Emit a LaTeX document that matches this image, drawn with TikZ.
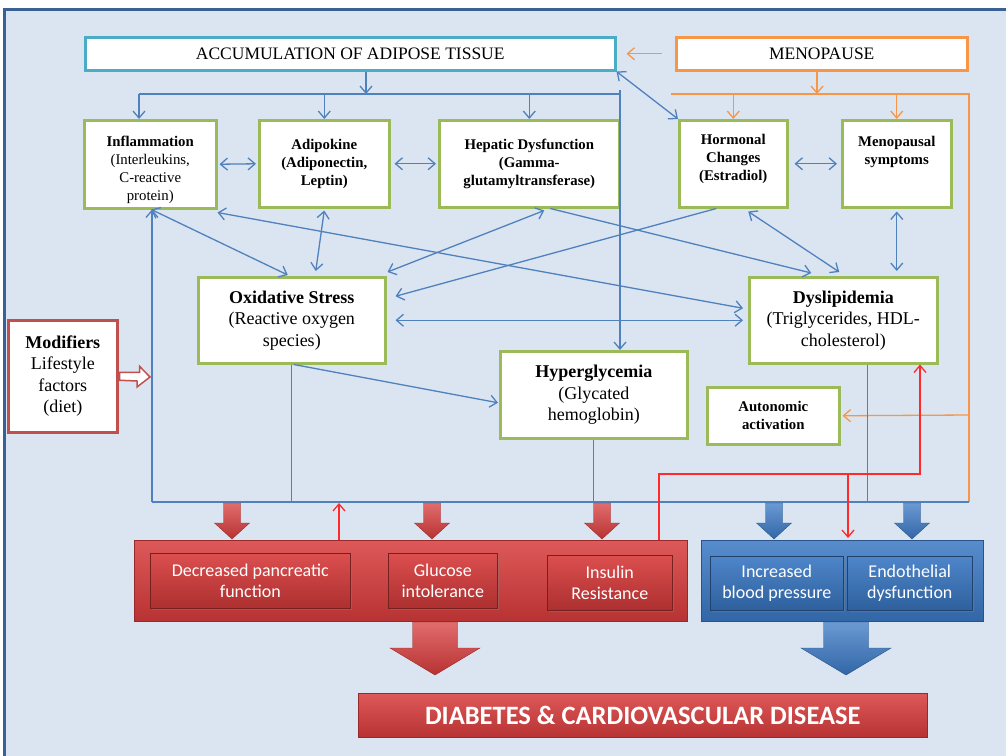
\documentclass[tikz,border=0pt]{standalone}
\usepackage{fontspec}
\setmainfont{Liberation Serif}
\newfontfamily\calfont{Carlito}
\usetikzlibrary{arrows.meta,shadows}

\definecolor{panelbg}{HTML}{DBE5F1}
\definecolor{frameblue}{HTML}{3B6096}
\definecolor{tissuecyan}{HTML}{4BACC6}
\definecolor{menoorange}{HTML}{F79646}
\definecolor{leafgreen}{HTML}{9BBB59}
\definecolor{lineblue}{HTML}{4F81BD}
\definecolor{linered}{HTML}{FF2A2A}
\definecolor{modred}{HTML}{C0504D}
\definecolor{slabred}{HTML}{D83B3B}
\definecolor{slabblue}{HTML}{3A78C4}

% block arrow pointing down: x, top, tip, half shaft, half head, head length, colour
\newcommand\blockdown[7]{%
  \shade [top color=#7!75!white, bottom color=#7!85!black, draw=#7!70!black, line width=.4pt]
    ({#1-#4},#2) -- ({#1+#4},#2) -- ({#1+#4},{#3-#6}) -- ({#1+#5},{#3-#6})
    -- (#1,#3) -- ({#1-#5},{#3-#6}) -- ({#1-#4},{#3-#6}) -- cycle;}

\tikzset{
  >={Straight Barb[length=7pt,width=12pt]},
  gbox/.style={draw=leafgreen, line width=2.5pt, fill=white, inner sep=1pt, anchor=north west,
    align=center, font=\fontsize{14.8}{18}\selectfont},
  bigbox/.style={gbox, font=\fontsize{18}{21.5}\selectfont},
  topbox/.style={line width=2.5pt, fill=white, anchor=north west, inner sep=0pt,
    font=\fontsize{17.5}{20}\selectfont},
  bline/.style={draw=lineblue, line width=1.3pt},
  oline/.style={draw=menoorange, line width=1.3pt},
  rline/.style={draw=linered, line width=1.3pt},
  slab/.style={anchor=north west, inner sep=0pt, draw=#1!70!black, line width=.6pt,
    top color=#1!85!white, bottom color=#1!85!black},
  tile/.style={anchor=north west, inner sep=0pt, draw=#1!55!black, line width=.6pt,
    top color=#1!90!white, bottom color=#1!80!black, text=white, align=center,
    font=\calfont\fontsize{18}{21.5}\selectfont,
    drop shadow={shadow xshift=1.5pt, shadow yshift=-1.5pt, opacity=.45}},
}

\begin{document}
\begin{tikzpicture}[x=1pt, y=-1pt]
\useasboundingbox (0,0) rectangle (1006,755);
\fill [white] (0,0) rectangle (1006,755);
\draw [fill=panelbg, draw=frameblue, line width=3pt] (4.5,9.5) rectangle (1015,765);

% top row
\node [topbox, draw=tissuecyan, minimum width=530pt, minimum height=33pt] (acc) at (84,36)
  {ACCUMULATION OF ADIPOSE TISSUE};
\node [topbox, draw=menoorange, minimum width=291pt, minimum height=33pt] (meno) at (675,36)
  {MENOPAUSE};

% green boxes
\node [gbox, minimum width=132pt, minimum height=88pt] (infl) at (83,119)
  {\rule{0pt}{21pt}\textbf{Inflammation}\\(Interleukins,\\C-reactive\\protein)};
\node [gbox, minimum width=130pt, minimum height=87pt] (adip) at (258,119)
  {\textbf{Adipokine}\\\textbf{(Adiponectin,}\\\textbf{Leptin)}};
\node [gbox, minimum width=180pt, minimum height=87pt] (hep) at (438,119)
  {\textbf{Hepatic Dysfunction}\\\textbf{(Gamma-}\\\textbf{glutamyltransferase)}};
\node [gbox, minimum width=108pt, minimum height=87pt] (horm) at (678,119)
  {\textbf{Hormonal}\\\textbf{Changes}\\\textbf{(Estradiol)}\\[-6pt]~};
\node [gbox, minimum width=109pt, minimum height=87pt] (symp) at (841,119)
  {\textbf{Menopausal}\\\textbf{symptoms}\\[9pt]~};
\node [bigbox, minimum width=187pt, minimum height=86pt] (oxi) at (197,276)
  {\textbf{Oxidative Stress}\\(Reactive oxygen\\species)};
\node [bigbox, minimum width=188pt, minimum height=86pt] (dys) at (748,276)
  {\textbf{Dyslipidemia}\\(Triglycerides,\ HDL-\\cholesterol)};
\node [bigbox, minimum width=187pt, minimum height=87pt] (hyper) at (499,350)
  {\textbf{Hyperglycemia}\\(Glycated\\hemoglobin)};
\node [gbox, minimum width=132pt, minimum height=57pt] (auto) at (706,386)
  {\textbf{Autonomic}\\\textbf{activation}};
\node [bigbox, draw=modred, minimum width=109pt, minimum height=112pt] (mod) at (7,319)
  {\textbf{Modifiers}\\Lifestyle\\factors\\(diet)};

% outcome slabs
\node [slab=slabred, minimum width=553pt, minimum height=81pt] (redbox) at (134,540) {};
\node [slab=slabblue, minimum width=282pt, minimum height=81pt] (bluebox) at (701,540) {};
\node [tile=slabred, minimum width=200pt, minimum height=55pt] (panc) at (150,553)
  {Decreased pancreatic\\function};
\node [tile=slabred, minimum width=109pt, minimum height=55pt] (gluc) at (388,553)
  {Glucose\\intolerance};
\node [tile=slabred, minimum width=125pt, minimum height=55pt] (insu) at (547,555)
  {Insulin\\Resistance};
\node [tile=slabblue, minimum width=133pt, minimum height=54pt] (bp) at (710,556)
  {Increased\\blood pressure};
\node [tile=slabblue, minimum width=125pt, minimum height=54pt] (endo) at (847,556)
  {Endothelial\\dysfunction};
\node [slab=slabred, minimum width=569pt, minimum height=44pt, text=white,
  font=\calfont\bfseries\fontsize{26.5}{28}\selectfont] (dis) at (358,693)
  {DIABETES \& CARDIOVASCULAR DISEASE};

% bus points
\coordinate (adrop) at (366,94);
\coordinate (tbus) at (620,90);
\coordinate (odrop) at (817,94);
\coordinate (oleft) at (671,94);
\coordinate (oright) at (969,94);
\coordinate (oauto) at (969,415);
\coordinate (lbus) at (152,502);
\coordinate (rbus) at (969,502);
\coordinate (rup) at (339,503);
\coordinate (rk) at (659,474);
\coordinate (rj) at (848,474);
\coordinate (rd) at (920,474);

% adipose tissue fan-out
\draw [bline, ->] (adrop |- acc.south) -- (adrop);
\draw [bline] (139,94) -- (tbus |- adrop);
\draw [bline, ->] (139,94) -- (139,119 |- infl.north);
\draw [bline, ->] (adip.north |- adrop) -- (adip.north);
\draw [bline, ->] (hep.north |- adrop) -- (hep.north);
\draw [bline, ->] (tbus) -- (tbus |- hyper.north);
\draw [bline, <->] (acc.south east) -- (horm.north west);

% menopause fan-out
\draw [oline, ->] ([xshift=-13pt]meno.west) -- ([xshift=10pt]acc.east);
\draw [oline, ->] (odrop |- meno.south) -- (odrop);
\draw [oline] (oleft) -- (oright) -- (rbus);
\draw [oline, ->] (horm.north |- oleft) -- (horm.north);
\draw [oline, ->] (symp.north |- oleft) -- (symp.north);
\draw [oline, ->] (oauto) -- ([xshift=2pt]auto.east);

% links between factors
\draw [bline, <->, shorten <=2pt, shorten >=2pt] (infl.east) -- (adip.west);
\draw [bline, <->, shorten <=4pt, shorten >=2pt] (adip.east) -- (hep.west);
\draw [bline, <->, shorten <=6pt, shorten >=4pt] (horm.east) -- (symp.west);
\draw [bline, <->] ([xshift=1pt]infl.south) -- ([xshift=-4pt,yshift=1pt]oxi.north);
\draw [bline, <->] ([yshift=-3pt]infl.south east) -- ([xshift=-5pt,yshift=12pt]dys.west);
\draw [bline, <->] ([yshift=-2pt]adip.south) -- ([xshift=24pt,yshift=5pt]oxi.north);
\draw [bline, <->] ([xshift=15pt,yshift=-2pt]hep.south) -- ([xshift=1pt,yshift=4pt]oxi.north east);
\draw [bline, ->] ([xshift=21pt]hep.south) -- ([xshift=-32pt,yshift=3pt]dys.north);
\draw [bline, ->] ([xshift=-17pt]horm.south) -- ([xshift=9pt,yshift=24pt]oxi.east);
\draw [bline, <->] ([xshift=15pt,yshift=-3pt]horm.south) -- ([xshift=-4pt,yshift=4pt]dys.north);
\draw [bline, <->, shorten <=3pt, shorten >=5pt] (symp.south) -- (symp.south |- dys.north);
\draw [bline, <->, shorten <=9pt, shorten >=5pt] (oxi.east) -- (dys.west);
\draw [bline, ->] ([xshift=2pt]oxi.south) -- ([xshift=-1pt,yshift=-8pt]hyper.west);

% lower bus
\draw [bline, ->] (lbus) -- (lbus |- infl.south);
\draw [bline] (lbus) -- (rbus);
\draw [bline] (oxi.south) -- (oxi.south |- lbus);
\draw [bline] (hyper.south) -- (hyper.south |- lbus);
\draw [bline] ([xshift=24pt]dys.south) -- ([xshift=24pt]dys.south |- lbus);

% modifiers arrow
\draw [draw=modred, fill=white, line width=1.5pt]
  ([xshift=1pt,yshift=4pt]mod.east) -- ++(20,0) -- ++(0,-6) -- (150,377)
  -- (137,387) -- ++(0,-6) -- ([xshift=1pt,yshift=-4pt]mod.east) -- cycle;

% red feedback lines
\draw [rline, ->] (rup |- redbox.north) -- (rup);
\draw [rline, ->] (rk |- redbox.north) -- (rk) -- (rd) -- (rd |- dys.south);
\draw [rline, ->] (rj) -- ([yshift=2pt]rj |- bluebox.north);

% block arrows
\foreach \bx in {232,432,602}
  \blockdown{\bx}{503}{539}{8.5}{17.5}{16}{slabred};
\foreach \bx in {774,912}
  \blockdown{\bx}{503}{539}{8.5}{17.5}{16}{slabblue};
\blockdown{435}{622}{675}{22.5}{45}{27}{slabred}
\blockdown{846}{622}{675}{22.5}{45}{27}{slabblue}
\end{tikzpicture}
\end{document}
